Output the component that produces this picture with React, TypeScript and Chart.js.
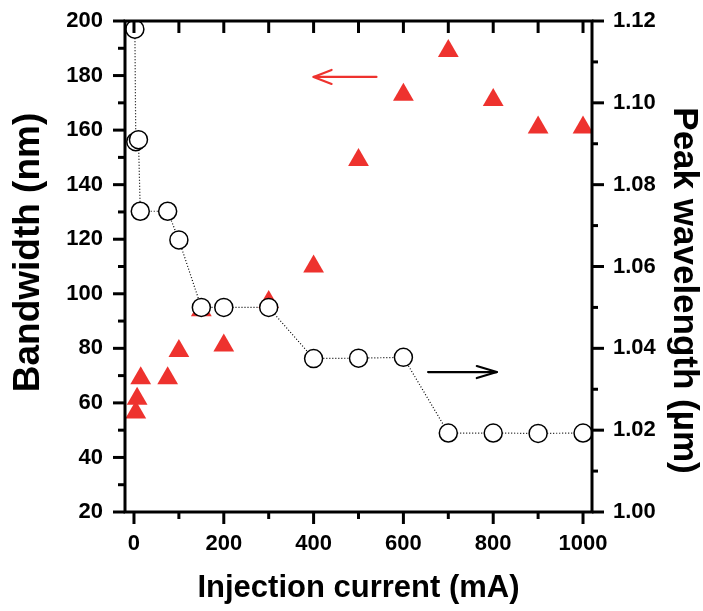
import React, { useEffect, useRef } from "react";
import { Chart, registerables } from "chart.js";

Chart.register(...registerables);

// ---- data ----
const bandwidthCurrent = [4, 7, 15, 75, 100, 150, 200, 300, 400, 500, 600, 700, 800, 900, 1000];
const bandwidthNm = [56.5, 61.5, 69, 69, 79, 94, 81, 97, 110, 149, 173, 189, 171, 161, 161];

const peakCurrent = [2, 4, 10, 14, 75, 100, 150, 200, 300, 400, 500, 600, 700, 800, 900, 1000];
const peakWavelength = [1.118, 1.0905, 1.091, 1.0735, 1.0735, 1.0665, 1.05, 1.05, 1.05, 1.0375, 1.0376, 1.0378, 1.0193, 1.0193, 1.0192, 1.0193];

const xTicks = [0, 200, 400, 600, 800, 1000];
const xMinorTicks = [100, 300, 500, 700, 900];
const xTopTicks = [0, 100, 200, 300, 400, 500, 600, 700, 800, 900, 1000];
const yLeftTicks = [20, 40, 60, 80, 100, 120, 140, 160, 180, 200];
const yLeftMinorTicks = [30, 50, 70, 90, 110, 130, 150, 170, 190];
const yRightTicks = [1.0, 1.02, 1.04, 1.06, 1.08, 1.1, 1.12];
const yRightMinorTicks = [1.01, 1.03, 1.05, 1.07, 1.09, 1.11];

const leftTitle = "Bandwidth (nm)";
const rightTitle = "Peak wavelength (\u00b5m)";

// arrows: [x1, x2, y] -- head at x2
const leftArrow = [540, 400, 179.5];
const rightArrow = [655, 808, 1.0342];

const RED = "rgb(238,50,46)";
const FONT = "'Liberation Sans', Arial, Helvetica, sans-serif";

const framePlugin = {
  id: "frameTicks",
  afterDraw(chart: any) {
    const { ctx, chartArea: a, scales } = chart;
    const x = scales.x, y = scales.y, y2 = scales.y2;
    ctx.save();
    ctx.strokeStyle = "#000";
    ctx.lineWidth = 3;
    ctx.lineCap = "butt";
    ctx.strokeRect(a.left, a.top, a.right - a.left, a.bottom - a.top);
    const seg = (x1: number, y1: number, x2: number, y2_: number) => {
      ctx.beginPath();
      ctx.moveTo(x1, y1);
      ctx.lineTo(x2, y2_);
      ctx.stroke();
    };
    yLeftTicks.forEach((v) => { const p = y.getPixelForValue(v); seg(a.left - 12, p, a.left, p); });
    yLeftMinorTicks.forEach((v) => { const p = y.getPixelForValue(v); seg(a.left - 7, p, a.left, p); });
    yRightTicks.forEach((v) => { const p = y2.getPixelForValue(v); seg(a.right, p, a.right + 12, p); });
    yRightMinorTicks.forEach((v) => { const p = y2.getPixelForValue(v); seg(a.right, p, a.right + 6, p); });
    xTicks.forEach((v) => { const p = x.getPixelForValue(v); seg(p, a.bottom, p, a.bottom + 12); });
    xMinorTicks.forEach((v) => { const p = x.getPixelForValue(v); seg(p, a.bottom, p, a.bottom + 7); });
    xTopTicks.forEach((v) => { const p = x.getPixelForValue(v); seg(p, a.top, p, a.top + 12); });

    // arrows
    const arrow = (x1: number, x2: number, yp: number, color: string, len: number, half: number) => {
      const p1 = x.getPixelForValue(x1);
      const p2 = x.getPixelForValue(x2);
      const dir = p2 > p1 ? 1 : -1;
      ctx.strokeStyle = color;
      ctx.lineWidth = 2.2;
      ctx.lineCap = "round";
      ctx.lineJoin = "round";
      seg(p1, yp, p2, yp);
      ctx.beginPath();
      ctx.moveTo(p2 - dir * len, yp - half);
      ctx.lineTo(p2, yp);
      ctx.lineTo(p2 - dir * len, yp + half);
      ctx.stroke();
    };
    arrow(leftArrow[0], leftArrow[1], y.getPixelForValue(leftArrow[2]), RED, 18, 7);
    arrow(rightArrow[0], rightArrow[1], y2.getPixelForValue(rightArrow[2]), "#000", 20, 6);

    // vertical axis titles
    const mid = (a.top + a.bottom) / 2;
    ctx.fillStyle = "#000";
    ctx.font = "bold 37px " + FONT;
    ctx.textAlign = "center";
    ctx.textBaseline = "middle";
    ctx.save();
    ctx.translate(y.left + 29, mid - 14);
    ctx.rotate(-Math.PI / 2);
    ctx.fillText(leftTitle, 0, 0);
    ctx.restore();
    ctx.font = "bold 35px " + FONT;
    ctx.save();
    ctx.translate(y2.right - 19, mid + 24);
    ctx.rotate(Math.PI / 2);
    ctx.fillText(rightTitle, 0, 0);
    ctx.restore();
    ctx.restore();
  },
};

export default function App() {
  const ref = useRef<HTMLCanvasElement | null>(null);
  useEffect(() => {
    if (!ref.current) return;
    const tickFont = { family: FONT, size: 22, weight: "bold" as const };
    const xTitleFont = { family: FONT, size: 31, weight: "bold" as const };
    const chart = new Chart(ref.current, {
      type: "scatter",
      data: {
        datasets: [
          {
            label: "Peak wavelength",
            data: peakCurrent.map((c, i) => ({ x: c, y: peakWavelength[i] })),
            yAxisID: "y2",
            showLine: true,
            borderColor: "#000",
            borderWidth: 1.2,
            borderDash: [1, 2],
            pointStyle: "circle",
            pointRadius: 9,
            pointBorderWidth: 1.5,
            pointBorderColor: "#000",
            pointBackgroundColor: "#fff",
          },
          {
            label: "Bandwidth",
            data: bandwidthCurrent.map((c, i) => ({ x: c, y: bandwidthNm[i] })),
            yAxisID: "y",
            showLine: false,
            pointStyle: "triangle",
            pointRadius: 12,
            pointBorderWidth: 0,
            pointBorderColor: RED,
            pointBackgroundColor: RED,
          },
        ],
      },
      options: {
        animation: false,
        responsive: false,
        devicePixelRatio: 1,
        layout: { padding: { top: 21, left: 0, right: 0, bottom: 0 } },
        plugins: { legend: { display: false }, tooltip: { enabled: false } },
        scales: {
          x: {
            type: "linear",
            position: "bottom",
            min: -20,
            max: 1020,
            grid: { display: false, drawTicks: false },
            border: { display: false },
            afterBuildTicks: (s: any) => { s.ticks = xTicks.map((v) => ({ value: v })); },
            afterFit: (s: any) => { s.height = 99; s.paddingLeft = 0; s.paddingRight = 0; },
            ticks: { font: tickFont, color: "#000", padding: 19, maxRotation: 0, autoSkip: false, callback: (v: any) => String(v) },
            title: { display: true, text: "Injection current (mA)", font: xTitleFont, color: "#000", padding: { top: 0, bottom: 4 } },
          },
          y: {
            type: "linear",
            position: "left",
            min: 20,
            max: 200,
            grid: { display: false, drawTicks: false },
            border: { display: false },
            afterBuildTicks: (s: any) => { s.ticks = yLeftTicks.map((v) => ({ value: v })); },
            afterFit: (s: any) => { s.width = 125; s.paddingTop = 0; s.paddingBottom = 0; },
            ticks: { font: tickFont, color: "#000", padding: 22, autoSkip: false, callback: (v: any) => String(v) },
            title: { display: false, text: leftTitle },
          },
          y2: {
            type: "linear",
            position: "right",
            min: 1.0,
            max: 1.12,
            grid: { display: false, drawTicks: false },
            border: { display: false },
            afterBuildTicks: (s: any) => { s.ticks = yRightTicks.map((v) => ({ value: v })); },
            afterFit: (s: any) => { s.width = 111; s.paddingTop = 0; s.paddingBottom = 0; },
            ticks: { font: tickFont, color: "#000", padding: 21, autoSkip: false, callback: (v: any) => Number(v).toFixed(2) },
            title: { display: false, text: rightTitle },
          },
        },
      },
      plugins: [framePlugin],
    });
    return () => chart.destroy();
  }, []);
  return (
    <div style={{ position: "fixed", left: 0, top: 0, width: 703, height: 611, background: "#fff" }}>
      <canvas ref={ref} width={703} height={611} style={{ width: 703, height: 611 }} />
    </div>
  );
}
